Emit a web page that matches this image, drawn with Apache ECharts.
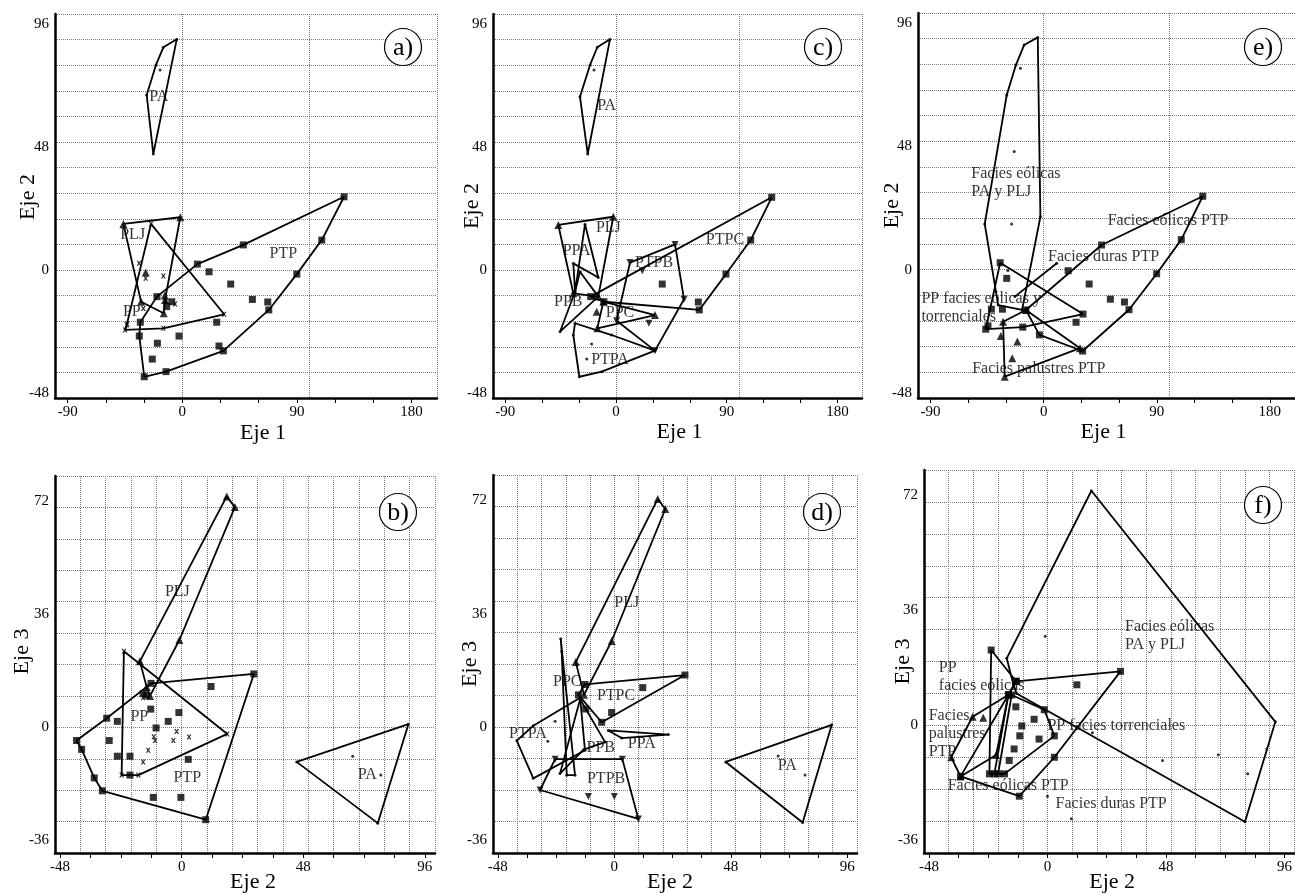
<!DOCTYPE html>
<html><head><meta charset="utf-8">
<script src="https://cdn.jsdelivr.net/npm/echarts@6/dist/echarts.min.js"></script>
<style>html,body{margin:0;padding:0;background:#fff}#c{width:1295px;height:894px}</style>
</head><body><div id="c"></div>
<script>
// ---------- tick labels ----------
const topXLabels = [-90, 0, 90, 180];
const topXTicks = [-90, -60, -30, 0, 30, 60, 90, 120, 150, 180];
const topYLabels = [-48, 0, 48, 96];
const botXLabels = [-48, 0, 48, 96];
const botXTicks = [-48, -36, -24, -12, 0, 12, 24, 36, 48, 60, 72, 84, 96];
const botYLabels = [-36, 0, 36, 72];

// ---------- panel a (Eje 1 / Eje 2) ----------
const a_PA_hull = [[-4.4,90.1],[-14.9,87],[-20.7,80.1],[-28,68.4],[-22.8,45.3]];
const a_PA_pts = [[-17.5,78.1]];
const a_PLJ_hull = [[-46.3,18],[-1.6,20.6],[-13.6,-11.7],[-14.6,-16.9],[-32.4,-12.4]];
const a_PLJ_pts = [[-28.8,-1],[-13.8,-10]];
const a_PP_hull = [[-24.6,18],[32.8,-17.3],[-14.9,-22.8],[-45,-23.4],[-43.7,-21.5]];
const a_PP_pts = [[-28.8,-3.2],[-14.9,-2.3],[-5.7,-13.3],[-13,-12.4],[-34,2.6],[-30.6,-15],[-43.2,-21.1]];
const a_PTP_hull = [[127,28.6],[109.5,11.7],[89.9,-1.6],[67.9,-15.6],[32.2,-31.6],[-12.8,-39.7],[-29.9,-41.7],[-33.8,-25.8],[-33,-20.4],[-19.9,-10.4],[11.8,2.3],[47.9,9.8]];
const a_PTP_pts = [[21,-0.7],[38,-5.5],[55,-11.5],[67.1,-12.5],[27,-20.4],[-2.6,-25.8],[-19.6,-28.6],[-23.6,-34.8],[28.8,-29.7],[-8.3,-12.4],[-12.3,-14.3]];
const a_labels = [['PA',-18.5,67.7],['PLJ',-39,13.7],['PTP',79.3,6.5],['PP',-39.7,-16.3]];

// ---------- panel c (Eje 1 / Eje 2) ----------
const c_PA_hull = [[-4.9,90.1],[-15.2,87],[-21.1,80.1],[-29.3,67.7],[-23,45.3]];
const c_PA_pts = [[-17.9,78.1]];
const c_PLJ_hull = [[-46.9,17.6],[-2.2,20.8],[-14.4,-10.4],[-34.7,-9.1]];
const c_PTPC_hull = [[126.6,28.4],[109.5,11.7],[89.4,-1.6],[67.7,-15.6],[-9.8,-12.4],[-20.6,-10.4]];
const c_PTPC_pts = [[37.6,-5.5],[66.9,-12.5]];
const c_PTPB_hull = [[11.4,2.9],[48,10],[55.3,-11.4],[31.7,-31.5],[0.5,-19.8]];
const c_PTPB_pts = [[26.8,-20.8],[21.4,-0.3]];
const c_PTPA_hull = [[-33.3,-20.8],[-34.7,-25.4],[-29.8,-41.7],[-11.6,-39.7],[31.7,-31.5],[-3.5,-25.4]];
const c_PTPA_pts = [[-19.8,-28.9],[-23.8,-34.8]];
const c_PPA_hull = [[-25.2,17.9],[-14.4,-2.9],[-34.7,2.6],[-33.3,-8.5]];
const c_PPB_hull = [[-45.5,-24.1],[-33.3,-8.5],[-29.3,-0.7],[-14.4,-10.4]];
const c_PPC_hull = [[-15.2,-22.8],[31.7,-17.6],[-10.3,-12.4]];
const c_PPC_pts = [[-15.7,-16.3]];
const c_labels = [['PA',-7.6,64.2],['PLJ',-6.2,16.3],['PPA',-32,7.5],['PTPB',30.9,3],['PTPC',88.6,11.7],['PPB',-38.8,-12.4],['PPC',3.3,-16.9],['PTPA',-4.9,-35.2]];

// ---------- panel e (Eje 1 / Eje 2) ----------
const e_aeol_hull = [[-4.7,90.5],[-15.6,87.5],[-22.1,79.7],[-29.4,68],[-46.9,17.8],[-36.2,-13.8],[-17.2,-15.7],[-2.6,20.6]];
const e_aeol_pts = [[-18.5,78.5],[-23.4,46],[-25.5,17.8],[-28.5,-0.3],[-10,-5]];
const e_PP_hull = [[-34.6,2.7],[31.3,-17.3],[-16.6,-22.4],[-46.1,-23.2]];
const e_PP_pts = [[-29.4,-3.4],[-32.8,-15.4],[-41.6,-15.4],[-44.3,-21.9]];
const e_eolPTP_hull = [[126.6,28.6],[109.5,11.7],[89.9,-1.6],[67.9,-15.6],[31,-31.7],[-3.4,-25.4],[-14.1,-15.7],[46.1,9.6]];
const e_eolPTP_pts = [[36.2,-5.6],[53.1,-11.5],[64.3,-12.6],[25.8,-20.5],[19.5,-0.4]];
const e_duras_seg = [[10.4,2.5],[-22.9,-10.5]];
const e_palus_hull = [[-32.3,-20.3],[-14.1,-15.7],[28.9,-30.6],[-31,-41.7]];
const e_palus_pts = [[-20.9,-28],[-25,-34.5],[-34.1,-25.8]];
const e_labels = [['Facies eólicas\nPA y PLJ',-58,33.7],['Facies eólicas PTP',50.5,19.1],['Facies duras PTP',3.1,5.1],['PP facies eólicas y\ntorrenciales',-97.7,-15],['Facies palustres PTP',-57.3,-38.7]];

// ---------- panel b (Eje 2 / Eje 3) ----------
const b_PLJ_hull = [[17.8,73.5],[21,70.1],[-0.9,27.8],[-12.5,10],[-13.8,12.8],[-16.5,21]];
const b_PP_hull = [[-22.8,24.2],[18,-2.1],[-17.1,-15.2],[-23.7,-15.2]];
const b_PP_pts = [[-2,-1.3],[2.9,-3.1],[-3.3,-4.2],[-10.5,-4.2],[-13.2,-7.3],[-15.2,-11],[-15.2,9.4],[-11,-3]];
const b_PTP_hull = [[28.5,17],[9.5,-29.4],[-31.3,-20.2],[-34.5,-16.1],[-39.5,-7],[-41.5,-4.2],[-29.6,2.9],[-12.1,14]];
const b_PTP_pts = [[11.6,13],[-12.2,5.8],[-1.1,4.7],[-5.3,1.9],[-10.1,-0.2],[-25.4,1.9],[-28.6,-4.2],[-25.4,-9.2],[-20.4,-9.2],[-20.4,-15.2],[2.6,-10.2],[-11.2,-22.3],[-0.3,-22.3],[-15.2,10.7],[-13.8,10.2]];
const b_PA_hull = [[89.5,1],[77.4,-30.5],[45.4,-11]];
const b_PA_pts = [[67.5,-9.2],[78.6,-15.2]];
const b_labels = [['PLJ',-1.7,43],['PP',-16.7,3.4],['PTP',2.2,-16.1],['PA',73.3,-15.2]];

// ---------- panel d (Eje 2 / Eje 3) ----------
const d_PLJ_hull = [[17.9,72.4],[21,69.2],[-1.1,27.3],[-12.5,10.2],[-15.9,20.6]];
const d_PA_hull = [[89.6,0.7],[77.6,-30.3],[45.9,-11.1]];
const d_PA_pts = [[67.5,-9.2],[78.6,-15.2]];
const d_PTPC_hull = [[29.1,16.5],[-12.1,13.5],[-14.8,10.2],[-5.2,1.5]];
const d_PTPC_pts = [[11.7,12.5],[-1.1,4.6],[-11.8,5.7]];
const d_PTPB_hull = [[-24.4,-10.2],[3.3,-10.2],[9.9,-29.2],[-30.6,-20]];
const d_PTPB_pts = [[-10.7,-22.1],[0,-22.1]];
const d_PTPA_hull = [[-33.4,0.4],[-14.1,9.3],[-12.1,-7.4],[-33.4,-16.3],[-40.2,-4.3]];
const d_PTPA_pts = [[-24.4,1.8],[-27.4,-4.5]];
const d_PPC_hull = [[-22.1,28],[-16.2,-15.3],[-19.6,-15.3],[-21.7,24]];
const d_PPB_hull = [[-14.1,8.8],[-3.8,-4.8],[-12.7,-7.2],[-22.4,-14.8]];
const d_PPA_hull = [[-2.5,-1.1],[22.3,-2.4],[3,-3.5]];
const d_labels = [['PLJ',5.1,39.5],['PPC',-19.4,14.4],['PTPC',0.7,9.9],['PTPA',-35.6,-2.2],['PPB',-5.6,-6.7],['PPA',11.3,-5.3],['PTPB',-3.4,-16.3],['PA',71.3,-12.4]];

// ---------- panel f (Eje 2 / Eje 3) ----------
const f_aeol_hull = [[17.8,73.5],[92.3,1.1],[80,-30.2],[-12.5,10],[-13.8,12.8],[-16.5,21]];
const f_aeol_pts = [[-0.9,27.9],[46.6,-11],[69.2,-9.2],[81.1,-15.2],[88.8,-7.4],[18.2,-2.3]];
const f_eolPTP_hull = [[29.6,16.9],[2.8,-10],[-11.4,-22.2],[-35.2,-16],[-15.8,9.6],[-12.7,13.8]];
const f_eolPTP_pts = [[11.9,12.7],[-12.8,5.8],[-5.4,1.9],[-10.4,-0.2],[-11.2,-3.3],[-3.4,-4.3],[-13.5,-7.4],[-15.5,-11]];
const f_PPeol_hull = [[-22.8,23.6],[-12.7,13.8],[-15.8,9.6],[-21.5,-15.2],[-23.5,-15.2]];
const f_PPtor_hull = [[-14.5,9.5],[-1.3,4.9],[2.8,-3.3],[-17.4,-15.2],[-20,-15.2]];
const f_palus_hull = [[-30.3,2.7],[-15.8,9.6],[-20.8,-9.3],[-35.2,-16],[-39,-10]];
const f_palus_pts = [[-26,2.4]];
const f_duras_pts = [[0,-22.2],[9.7,-29.3]];
const f_labels = [['Facies eólicas\nPA y PLJ',31.2,28.2],['PP\nfacies eólicas',-44.2,15.2],['Facies\npalustres\nPTP',-48.3,-2.5],['PP facies torrenciales',-0.2,-0.2],['Facies eólicas PTP',-40.6,-18.8],['Facies duras PTP',3.1,-24.7]];

const panelLetters = ['a)', 'c)', 'e)', 'b)', 'd)', 'f)'];

// ---------- styles / layout ----------
const FONT = "'Liberation Serif','DejaVu Serif',serif";
const SYM = {
  sq: {symbol: 'rect', size: 7},
  tri: {symbol: 'triangle', size: 8},
  itri: {symbol: 'path://M0,0L10,0L5,9Z', size: 7},
  x: {symbol: 'path://M0,0L3,0L5,3L7,0L10,0L6.5,5L10,10L7,10L5,7L3,10L0,10L3.5,5Z', size: 5},
  dot: {symbol: 'circle', size: 3}
};
const grids = [
  {left: 55, top: 14, width: 382, height: 384},
  {left: 493, top: 14, width: 369, height: 384},
  {left: 918, top: 13, width: 384, height: 385},
  {left: 55, top: 476, width: 380, height: 381},
  {left: 493, top: 475, width: 364, height: 382},
  {left: 924, top: 470, width: 371, height: 387}
];
const letterPos = [[403, 47], [823, 47], [1263, 47], [398, 512], [822, 512], [1263, 505]];
const xNameGap = [24, 23, 23, 18, 18, 18];
const xNamePad = [[0,0,0,34], [0,0,0,4], [0,0,0,-6], [0,0,0,16], [0,0,0,-10], [0,0,0,6]];
const yNameGap = [16, 10, 15, 22, 12, 10];
const yNamePad = [[0,0,0,18], [0,0,0,0], [0,0,0,0], [0,0,0,26], [0,0,0,0], [0,0,0,0]];

// groups per panel: [hull, points, symbol key, closed]
const panels = [
  [[a_PA_hull, a_PA_pts, 'dot'], [a_PLJ_hull, a_PLJ_pts, 'tri'], [a_PP_hull, a_PP_pts, 'x'], [a_PTP_hull, a_PTP_pts, 'sq']],
  [[c_PA_hull, c_PA_pts, 'dot'], [c_PLJ_hull, [], 'tri'], [c_PTPC_hull, c_PTPC_pts, 'sq'], [c_PTPB_hull, c_PTPB_pts, 'itri'], [c_PTPA_hull, c_PTPA_pts, 'dot'], [c_PPA_hull, [], 'dot'], [c_PPB_hull, [], 'dot'], [c_PPC_hull, c_PPC_pts, 'tri']],
  [[e_aeol_hull, e_aeol_pts, 'dot'], [e_PP_hull, e_PP_pts, 'sq'], [e_eolPTP_hull, e_eolPTP_pts, 'sq'], [e_duras_seg, [], 'dot', false], [e_palus_hull, e_palus_pts, 'tri']],
  [[b_PLJ_hull, [], 'tri'], [b_PP_hull, b_PP_pts, 'x'], [b_PTP_hull, b_PTP_pts, 'sq'], [b_PA_hull, b_PA_pts, 'dot']],
  [[d_PLJ_hull, [], 'tri'], [d_PA_hull, d_PA_pts, 'dot'], [d_PTPC_hull, d_PTPC_pts, 'sq'], [d_PTPB_hull, d_PTPB_pts, 'itri'], [d_PTPA_hull, d_PTPA_pts, 'dot'], [d_PPC_hull, [], 'dot'], [d_PPB_hull, [], 'dot'], [d_PPA_hull, [], 'dot']],
  [[f_aeol_hull, f_aeol_pts, 'dot'], [f_eolPTP_hull, f_eolPTP_pts, 'sq'], [f_PPeol_hull, [], 'sq'], [f_PPtor_hull, [], 'sq'], [f_palus_hull, f_palus_pts, 'tri'], [[], f_duras_pts, 'dot']]
];
const panelLabels = [a_labels, c_labels, e_labels, b_labels, d_labels, f_labels];
const leftAligned = [false, false, true, false, false, true];

const xAxes = [], yAxes = [], series = [], tickAxes = [];
grids.forEach((g, gi) => {
  const top = gi < 3;
  const xr = top ? [-100, 200] : [-50, 100];
  xAxes.push({
    type: 'value', gridIndex: gi, position: 'bottom', min: xr[0], max: xr[1], interval: top ? 100 : 10,
    name: top ? 'Eje 1' : 'Eje 2', nameLocation: 'middle', nameGap: xNameGap[gi], nameMoveOverlap: false,
    nameTextStyle: {fontFamily: FONT, fontSize: 22, color: '#000', padding: xNamePad[gi]},
    axisLine: {show: true, onZero: false, lineStyle: {color: '#000', width: 2.5}},
    axisTick: {show: false},
    axisLabel: {customValues: top ? topXLabels : botXLabels, fontFamily: FONT, fontSize: 15, color: '#000', margin: 7},
    splitLine: {show: true, lineStyle: {type: 'dotted', color: '#7a7a7a', width: 1}}
  });
  // tick-only companion axis (same scale)
  tickAxes.push({
    type: 'value', gridIndex: gi, position: 'bottom', min: xr[0], max: xr[1],
    axisLine: {show: false, onZero: false}, axisLabel: {show: false}, splitLine: {show: false},
    axisTick: {show: true, customValues: top ? topXTicks : botXTicks, length: 5, lineStyle: {color: '#000', width: 1}}
  });
  yAxes.push({
    type: 'value', gridIndex: gi, min: top ? -50 : -40, max: top ? 100 : 80, interval: 10,
    name: top ? 'Eje 2' : 'Eje 3', nameLocation: 'middle', nameGap: yNameGap[gi], nameMoveOverlap: false,
    nameTextStyle: {fontFamily: FONT, fontSize: 22, color: '#000', padding: yNamePad[gi]},
    axisLine: {show: true, onZero: false, lineStyle: {color: '#000', width: 2.5}},
    axisTick: {show: false},
    axisLabel: {customValues: top ? topYLabels : botYLabels, fontFamily: FONT, fontSize: 15, color: '#000', margin: 6},
    splitLine: {show: true, lineStyle: {type: 'dotted', color: '#7a7a7a', width: 1}}
  });
  panels[gi].forEach(([hull, pts, sk, closed]) => {
    if (hull.length) {
      series.push({
        type: 'line', xAxisIndex: gi, yAxisIndex: gi, silent: true, z: 3,
        data: closed === false ? hull : hull.concat([hull[0]]),
        symbol: 'none', lineStyle: {color: '#000', width: 1.8}
      });
    }
    const all = hull.concat(pts);
    if (all.length) {
      series.push({
        type: 'scatter', xAxisIndex: gi, yAxisIndex: gi, silent: true, z: 4,
        data: all, symbol: SYM[sk].symbol, symbolSize: SYM[sk].size,
        itemStyle: {color: '#000'}
      });
    }
  });
  const la = leftAligned[gi];
  series.push({
    type: 'scatter', xAxisIndex: gi, yAxisIndex: gi, silent: true, z: 6,
    data: panelLabels[gi].map(d => ({value: [d[1], d[2]], name: d[0]})),
    symbolSize: 1, itemStyle: {color: 'rgba(0,0,0,0)'},
    label: {show: true, formatter: p => p.name, position: la ? 'right' : 'inside', distance: 0,
      color: '#000', fontFamily: FONT, fontSize: 16, lineHeight: 18, align: la ? 'left' : 'center'}
  });
});

const graphic = letterPos.map(([cx, cy], i) => ({
  type: 'group', children: [
    {type: 'circle', shape: {cx: cx, cy: cy, r: 18.5}, style: {fill: '#fff', stroke: '#000', lineWidth: 1.2}, z: 10},
    {type: 'text', x: cx, y: cy + 1, style: {text: panelLetters[i], font: '26px ' + FONT, fill: '#000', align: 'center', verticalAlign: 'middle'}, z: 11}
  ]
}));

const chart = echarts.init(document.getElementById('c'));
chart.setOption({
  animation: false, backgroundColor: '#fff',
  grid: grids, xAxis: xAxes.concat(tickAxes), yAxis: yAxes, series: series, graphic: graphic
});
</script>
</body></html>
